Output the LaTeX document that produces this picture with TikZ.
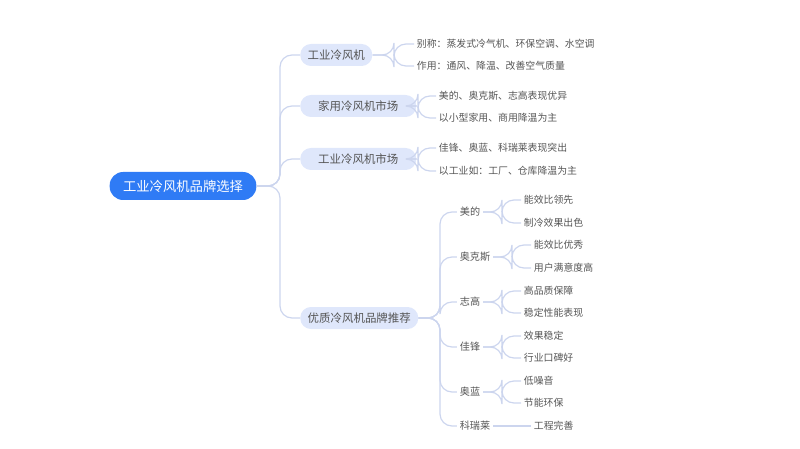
\documentclass[tikz,border=0pt]{standalone}
\usepackage{fontspec}
\setmainfont{Noto Sans CJK SC}
\begin{document}
\begin{tikzpicture}[x=0.75pt,y=-0.75pt,
  root/.style={fill=rootblue,text=white,rounded corners=10pt,minimum width=110pt,minimum height=21pt,font=\fontsize{10}{12}\selectfont,inner sep=0pt},
  lone/.style={fill=pillblue,text=txt,rounded corners=8pt,minimum height=16.5pt,inner xsep=0pt,inner ysep=0pt,anchor=west,font=\fontsize{8.6}{10}\selectfont},
  brand/.style={text=txt,font=\fontsize{7.6}{9}\selectfont,inner sep=2pt},
  leaf/.style={text=txt,font=\fontsize{7.4}{9}\selectfont,anchor=west,inner sep=2pt},
  conn/.style={draw=linec,line width=0.9pt,rounded corners=9pt}]
\definecolor{rootblue}{HTML}{2F7BF5}
\definecolor{pillblue}{HTML}{DFE7FB}
\definecolor{txt}{HTML}{555555}
\definecolor{linec}{HTML}{CCD5EE}
\useasboundingbox (0,0) rectangle (800,449);
\node[root] (r) at (183,186) {工业冷风机品牌选择};
\node[lone,minimum width=54pt] (a) at (300,55) {工业冷风机};
\node[lone,minimum width=87pt] (b) at (300,106) {家用冷风机市场};
\node[lone,minimum width=87pt] (c) at (300,159) {工业冷风机市场};
\node[lone,minimum width=88.5pt] (d) at (300,318) {优质冷风机品牌推荐};
\foreach \n in {a,b,c,d}{\draw[conn] (r.east) -- (280,186) |- (\n.west);}
\node[leaf] (a1) at (414,44) {别称：蒸发式冷气机、环保空调、水空调};
\node[leaf] (a2) at (414,66) {作用：通风、降温、改善空气质量};
\node[leaf] (b1) at (436,96) {美的、奥克斯、志高表现优异};
\node[leaf] (b2) at (436,118) {以小型家用、商用降温为主};
\node[leaf] (c1) at (436,148) {佳锋、奥蓝、科瑞莱表现突出};
\node[leaf] (c2) at (436,171) {以工业如：工厂、仓库降温为主};
\foreach \p/\l/\x in {a/a1/394,a/a2/394,b/b1/418,b/b2/418,c/c1/418,c/c2/418}{\draw[conn] (\p.east) -- (\x,0|-\p.east) |- (\l.west);}
\node[brand] (m) at (470,212) {美的};
\node[brand] (o) at (475,257) {奥克斯};
\node[brand] (z) at (470,302) {志高};
\node[brand] (j) at (470,347) {佳锋};
\node[brand] (l) at (470,392) {奥蓝};
\node[brand] (k) at (475,426) {科瑞莱};
\foreach \n in {m,o,z,j,l,k}{\draw[conn] (d.east) -- (440,318) |- (\n.west);}
\node[leaf] (m1) at (521,200) {能效比领先};
\node[leaf] (m2) at (521,223) {制冷效果出色};
\node[leaf] (o1) at (531,245) {能效比优秀};
\node[leaf] (o2) at (531,268) {用户满意度高};
\node[leaf] (z1) at (521,291) {高品质保障};
\node[leaf] (z2) at (521,313) {稳定性能表现};
\node[leaf] (j1) at (521,336) {效果稳定};
\node[leaf] (j2) at (521,358) {行业口碑好};
\node[leaf] (l1) at (521,381) {低噪音};
\node[leaf] (l2) at (521,403) {节能环保};
\node[leaf] (k1) at (531,426) {工程完善};
\foreach \p/\l/\x in {m/m1/502,m/m2/502,o/o1/512,o/o2/512,z/z1/502,z/z2/502,j/j1/502,j/j2/502,l/l1/502,l/l2/502}{\draw[conn] (\p.east) -- (\x,0|-\p.east) |- (\l.west);}
\draw[conn] (k.east) -- (k1.west);
\end{tikzpicture}
\end{document}
